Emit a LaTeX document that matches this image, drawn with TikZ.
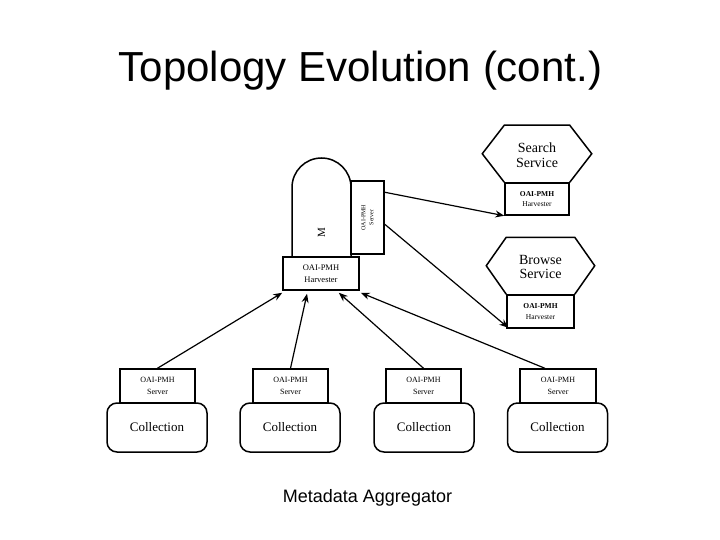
\documentclass[tikz,border=0pt]{standalone}
\usepackage{fontspec}
\setmainfont{Liberation Serif}
\newfontfamily\arialfont{Liberation Sans}
\usetikzlibrary{arrows.meta, calc}

\begin{document}
\begin{tikzpicture}[x=1pt, y=-1pt,
  srvbox/.style={draw, line width=1.5pt, fill=white, minimum width=75pt, minimum height=34pt, inner sep=0pt, align=center, font=\fontsize{8}{11.5}\selectfont},
  harvbox/.style={srvbox, minimum height=33pt},
  colbox/.style={draw, line width=1.5pt, rounded corners=10pt, minimum width=100pt, minimum height=49pt, inner sep=0pt, font=\fontsize{13}{15}\selectfont},
  svctext/.style={align=center, font=\fontsize{14}{14.5}\selectfont},
  shape line/.style={line width=1.5pt},
  arr/.style={-{Stealth[length=9pt,width=7pt]}, line width=1.2pt}
]
  \useasboundingbox (0,0) rectangle (720,540);

  \node[anchor=base, font=\arialfont\fontsize{42}{48}\selectfont] (title) at (360.5, 82) {Topology Evolution (cont.)};

  % the aggregator
  \draw[shape line] (292,258) -- (292,187.5) .. controls (292,171.2) and (305.2,158) .. (321.5,158)
    .. controls (337.8,158) and (351,171.2) .. (351,187.5) -- (351,258);
  \node[rotate=90, font=\fontsize{11}{12}\selectfont] (aggm) at (321.5, 233) {M};
  \node[draw, line width=1.5pt, fill=white, minimum width=33pt, minimum height=73pt, inner sep=0pt] (aggside) at (367.5, 217.5) {};
  \node[rotate=90, align=center, font=\fontsize{6}{8}\selectfont] (aggsidetext) at (aggside) {OAI-PMH\\Server};
  \node[harvbox, minimum width=76pt, font=\fontsize{8.5}{12}\selectfont] (aggh) at (321, 273.5) {OAI-PMH\\Harvester};

  % services
  \node[harvbox, minimum width=64pt, minimum height=32pt, font=\fontsize{7.5}{10.5}\selectfont] (searchh) at (537, 199) {\textbf{OAI-PMH}\\Harvester};
  \draw[shape line] (searchh.north west) -- ++(-22,-28.5) -- ($(searchh.north west)+(0,-57)$)
    -- ($(searchh.north east)+(0,-57)$) -- ++(22,28.5) -- (searchh.north east);
  \node[svctext] (search) at (537, 155) {Search\\Service};

  \node[harvbox, minimum width=67pt, font=\fontsize{7.5}{11.5}\selectfont] (browseh) at (540.5, 311.5) {\textbf{OAI-PMH}\\Harvester};
  \draw[shape line] (browseh.north west) -- ++(-20,-28.5) -- ($(browseh.north west)+(0,-57)$)
    -- ($(browseh.north east)+(0,-57)$) -- ++(20,28.5) -- (browseh.north east);
  \node[svctext] (browse) at (540.5, 267) {Browse\\Service};

  % collections
  \node[colbox] (col1) at (157, 427.5) {Collection};
  \node[colbox] (col2) at (290, 427.5) {Collection};
  \node[colbox] (col3) at (424, 427.5) {Collection};
  \node[colbox] (col4) at (557.5, 427.5) {Collection};
  \node[srvbox] (srv1) at (157.5, 386) {OAI-PMH\\Server};
  \node[srvbox] (srv2) at (290.5, 386) {OAI-PMH\\Server};
  \node[srvbox] (srv3) at (423.5, 386) {OAI-PMH\\Server};
  \node[srvbox, minimum width=76pt] (srv4) at (558, 386) {OAI-PMH\\Server};

  % harvesting
  \draw[arr] (srv1.north) -- ($(aggh.south west)+(0,2)$);
  \draw[arr] (srv2.north) -- ($(aggh.south west)!.32!(aggh.south east)+(0,3)$);
  \draw[arr] (srv3.north) -- ($(aggh.south west)!.73!(aggh.south east)+(0,2)$);
  \draw[arr] ($(srv4.north west)!.33!(srv4.north east)$) -- ($(aggh.south east)+(1,2)$);
  \draw[arr] ($(aggside.north east)+(0,12)$) -- (searchh.south west);
  \draw[arr] ($(aggside.north east)+(0,44)$) -- ($(browseh.south west)+(2,-1)$);

  \node[anchor=base, font=\arialfont\fontsize{18}{20}\selectfont] (caption) at (367.5, 502) {Metadata Aggregator};
\end{tikzpicture}
\end{document}
